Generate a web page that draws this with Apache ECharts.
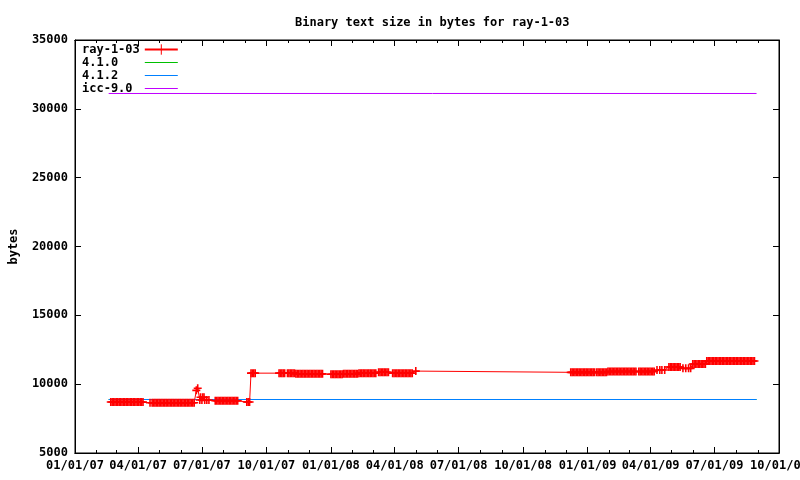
<!DOCTYPE html>
<html><head><meta charset="utf-8">
<script src="https://cdn.jsdelivr.net/npm/echarts@6/dist/echarts.min.js"></script>
<style>html,body{margin:0;padding:0;background:#fff}#c{width:800px;height:480px}</style>
</head><body><div id="c"></div>
<script>
const titleText = 'Binary text size in bytes for ray-1-03';
const seriesNames = ['ray-1-03', '4.1.0', '4.1.2', 'icc-9.0'];
const xTickDates = ['2007-01-01','2007-04-01','2007-07-01','2007-10-01','2008-01-01','2008-04-01','2008-07-01','2008-10-01','2009-01-01','2009-04-01','2009-07-01','2009-10-01'];
const xTickLabels = ['01/01/07','04/01/07','07/01/07','10/01/07','01/01/08','04/01/08','07/01/08','10/01/08','01/01/09','04/01/09','07/01/09','10/01/09'];
const yTicks = [5000, 10000, 15000, 20000, 25000, 30000, 35000];

const ray103 = [
['2007-02-21',8700],['2007-02-23',8700],['2007-02-25',8700],['2007-02-27',8700],['2007-03-01',8700],['2007-03-03',8700],['2007-03-05',8700],['2007-03-07',8700],['2007-03-09',8700],['2007-03-11',8700],['2007-03-13',8700],['2007-03-15',8700],['2007-03-17',8700],['2007-03-19',8700],['2007-03-21',8700],['2007-03-23',8700],['2007-03-25',8700],['2007-03-27',8700],['2007-03-29',8700],['2007-03-31',8700],['2007-04-02',8700],['2007-04-04',8700],['2007-04-06',8700],['2007-04-08',8700],
['2007-04-18',8650],
['2007-04-21',8650],['2007-04-23',8650],['2007-04-25',8650],['2007-04-27',8650],['2007-04-29',8650],['2007-05-01',8650],['2007-05-03',8650],['2007-05-05',8650],['2007-05-07',8650],['2007-05-09',8650],['2007-05-11',8650],['2007-05-13',8650],['2007-05-15',8650],['2007-05-17',8650],['2007-05-19',8650],['2007-05-21',8650],['2007-05-23',8650],['2007-05-25',8650],
['2007-05-27',8650],['2007-05-29',8650],['2007-05-31',8650],['2007-06-02',8650],['2007-06-04',8650],['2007-06-06',8650],['2007-06-08',8650],['2007-06-10',8650],['2007-06-12',8650],['2007-06-14',8650],['2007-06-16',8650],['2007-06-18',8650],['2007-06-20',8650],
['2007-06-23',9550],['2007-06-25',9700],['2007-06-28',8850],['2007-06-29',9050],['2007-07-01',8850],['2007-07-02',9050],['2007-07-04',9050],['2007-07-05',8850],['2007-07-08',8850],['2007-07-11',8850],
['2007-07-20',8800],['2007-07-22',8800],['2007-07-24',8800],['2007-07-26',8800],['2007-07-28',8800],['2007-07-30',8800],['2007-08-01',8800],['2007-08-03',8800],['2007-08-05',8800],['2007-08-07',8800],['2007-08-09',8800],['2007-08-11',8800],['2007-08-13',8800],['2007-08-15',8800],['2007-08-17',8800],['2007-08-19',8800],['2007-08-21',8800],
['2007-09-03',8700],['2007-09-05',8700],['2007-09-07',8700],
['2007-09-09',10800],['2007-09-11',10800],['2007-09-13',10800],['2007-09-15',10800],
['2007-10-19',10800],['2007-10-21',10800],['2007-10-23',10800],['2007-10-25',10800],['2007-10-27',10800],
['2007-10-31',10800],['2007-11-02',10800],['2007-11-04',10800],['2007-11-06',10800],['2007-11-08',10800],['2007-11-10',10800],
['2007-11-12',10750],['2007-11-14',10750],['2007-11-16',10750],['2007-11-18',10750],['2007-11-20',10750],['2007-11-22',10750],['2007-11-24',10750],['2007-11-26',10750],['2007-11-28',10750],['2007-11-30',10750],['2007-12-02',10750],['2007-12-04',10750],['2007-12-06',10750],['2007-12-08',10750],['2007-12-10',10750],['2007-12-12',10750],['2007-12-14',10750],['2007-12-16',10750],['2007-12-18',10750],['2007-12-20',10750],
['2008-01-01',10720],['2008-01-03',10720],['2008-01-05',10720],['2008-01-07',10720],['2008-01-09',10720],['2008-01-11',10720],['2008-01-13',10720],['2008-01-15',10720],['2008-01-17',10720],
['2008-01-19',10750],['2008-01-21',10750],['2008-01-23',10750],['2008-01-25',10750],['2008-01-27',10750],['2008-01-29',10750],['2008-01-31',10750],['2008-02-02',10750],['2008-02-04',10750],['2008-02-06',10750],['2008-02-08',10750],
['2008-02-10',10800],['2008-02-12',10800],['2008-02-14',10800],['2008-02-16',10800],['2008-02-18',10800],['2008-02-20',10800],['2008-02-22',10800],['2008-02-24',10800],['2008-02-26',10800],['2008-02-28',10800],['2008-03-01',10800],['2008-03-03',10800],['2008-03-05',10800],
['2008-03-09',10870],['2008-03-11',10870],['2008-03-13',10870],['2008-03-15',10870],['2008-03-17',10870],['2008-03-19',10870],['2008-03-21',10870],['2008-03-23',10870],
['2008-03-29',10790],['2008-03-31',10790],['2008-04-02',10790],['2008-04-04',10790],['2008-04-06',10790],['2008-04-08',10790],['2008-04-10',10790],['2008-04-12',10790],['2008-04-14',10790],['2008-04-16',10790],['2008-04-18',10790],['2008-04-20',10790],['2008-04-22',10790],['2008-04-24',10790],['2008-04-26',10790],
['2008-05-01',10950],
['2008-12-08',10860],['2008-12-10',10860],['2008-12-12',10860],['2008-12-14',10860],['2008-12-16',10860],['2008-12-18',10860],['2008-12-20',10860],['2008-12-22',10860],['2008-12-24',10860],['2008-12-26',10860],['2008-12-28',10860],['2008-12-30',10860],['2009-01-01',10860],['2009-01-03',10860],['2009-01-05',10860],['2009-01-07',10860],['2009-01-09',10860],['2009-01-11',10860],
['2009-01-14',10860],['2009-01-16',10860],['2009-01-18',10860],['2009-01-20',10860],['2009-01-22',10860],['2009-01-24',10860],['2009-01-26',10860],['2009-01-28',10860],
['2009-01-30',10920],['2009-02-01',10920],['2009-02-03',10920],['2009-02-05',10920],['2009-02-07',10920],['2009-02-09',10920],['2009-02-11',10920],['2009-02-13',10920],['2009-02-15',10920],['2009-02-17',10920],['2009-02-19',10920],['2009-02-21',10920],['2009-02-23',10920],['2009-02-25',10920],['2009-02-27',10920],['2009-03-01',10920],['2009-03-03',10920],['2009-03-05',10920],['2009-03-07',10920],['2009-03-09',10920],['2009-03-11',10920],
['2009-03-15',10920],['2009-03-17',10920],['2009-03-19',10920],['2009-03-21',10920],['2009-03-23',10920],['2009-03-25',10920],['2009-03-27',10920],['2009-03-29',10920],['2009-03-31',10920],['2009-04-02',10920],['2009-04-04',10920],['2009-04-06',10920],
['2009-04-10',11030],['2009-04-14',11030],['2009-04-17',11030],['2009-04-21',11030],
['2009-04-27',11250],['2009-04-29',11250],['2009-05-01',11250],['2009-05-03',11250],['2009-05-05',11250],['2009-05-07',11250],['2009-05-09',11250],['2009-05-11',11250],['2009-05-13',11250],
['2009-05-17',11150],['2009-05-21',11150],['2009-05-25',11150],['2009-05-28',11150],
['2009-05-31',11460],['2009-06-02',11460],['2009-06-04',11460],['2009-06-06',11460],['2009-06-08',11460],['2009-06-10',11460],['2009-06-12',11460],['2009-06-14',11460],['2009-06-16',11460],['2009-06-18',11460],
['2009-06-20',11680],['2009-06-22',11680],['2009-06-24',11680],['2009-06-26',11680],['2009-06-28',11680],['2009-06-30',11680],['2009-07-02',11680],['2009-07-04',11680],['2009-07-06',11680],['2009-07-08',11680],['2009-07-10',11680],['2009-07-12',11680],['2009-07-14',11680],['2009-07-16',11680],['2009-07-18',11680],['2009-07-20',11680],['2009-07-22',11680],['2009-07-24',11680],['2009-07-26',11680],['2009-07-28',11680],['2009-07-30',11680],['2009-08-01',11680],['2009-08-03',11680],['2009-08-05',11680],['2009-08-07',11680],['2009-08-09',11680],['2009-08-11',11680],['2009-08-13',11680],['2009-08-15',11680],['2009-08-17',11680],['2009-08-19',11680],['2009-08-21',11680],
['2009-08-23',11680],['2009-08-25',11680],['2009-08-27',11680]
];
const gcc410 = [['2007-02-18',8886],['2009-08-30',8886]];
const gcc412 = [['2007-02-18',8886],['2009-08-30',8886]];
const icc90 = [['2007-02-18',31114],['2009-08-30',31114]];

function day(s){ const p = s.split('-').map(Number); return Date.UTC(p[0], p[1]-1, p[2]); }
const toXY = arr => arr.map(d => [day(d[0]), d[1]]);
const majorT = xTickDates.map(day);
const labelMap = {}; majorT.forEach((t,i)=>{ labelMap[t] = xTickLabels[i]; });
const minorT = [];
for (let y = 2007; y <= 2009; y++) for (let m = 0; m < 12; m++) { const t = Date.UTC(y, m, 1); if (t <= majorT[majorT.length-1]) minorT.push(t); }

const FONT = 'DejaVu Sans Mono';
const txt = { color: '#000', fontFamily: FONT, fontSize: 12, fontWeight: 'bold' };
const xMin = majorT[0], xMax = majorT[majorT.length-1];
function xAx(pos, ticks, len, labels){
  return { type: 'value', position: pos, min: xMin, max: xMax, gridIndex: 0, scale: true,
    axisLine: { show: true, onZero: false, lineStyle: { color: '#000', width: 1 } },
    axisTick: { show: true, inside: true, length: len, customValues: ticks, lineStyle: { color: '#000' } },
    axisLabel: labels ? Object.assign({ show: true, customValues: majorT, margin: 7, hideOverlap: false, formatter: v => labelMap[v] || '' }, txt) : { show: false },
    splitLine: { show: false }, minorTick: { show: false } };
}
const plusPath = 'path://M0,5L10,5M5,0L5,10';
const barIcon = 'path://M0,0L40,0L40,1L0,1Z';
const chart = echarts.init(document.getElementById('c'), null, { renderer: 'canvas' });
chart.setOption({
  animation: false,
  backgroundColor: '#fff',
  title: { text: titleText, left: 290, top: 12, textStyle: Object.assign({}, txt) },
  grid: { left: 75, right: 21, top: 40, bottom: 27, show: true, borderColor: '#000', borderWidth: 1, containLabel: false, outerBoundsMode: 'none' },
  legend: { data: [ { name: seriesNames[0], itemStyle: { borderWidth: 1 } }, { name: seriesNames[1], icon: barIcon }, { name: seriesNames[2], icon: barIcon }, { name: seriesNames[3], icon: barIcon } ],
    orient: 'vertical', left: 77, top: 38, align: 'right', itemWidth: 33, itemHeight: 13, itemGap: 0,
    formatter: name => name.padEnd(8, ' '),
    textStyle: Object.assign({ lineHeight: 13 }, txt) },
  xAxis: [ xAx('bottom', majorT, 6, true), xAx('bottom', minorT, 3, false), xAx('top', majorT, 6, false), xAx('top', minorT, 3, false) ],
  yAxis: [
    { type: 'value', position: 'left', min: 5000, max: 35000, interval: 5000,
      name: 'bytes', nameLocation: 'middle', nameRotate: 90, nameGap: 55, nameTextStyle: Object.assign({}, txt),
      axisLine: { show: true, lineStyle: { color: '#000' } },
      axisTick: { show: true, inside: true, length: 6, lineStyle: { color: '#000' } },
      axisLabel: Object.assign({ margin: 7, formatter: v => yTicks.includes(v) ? String(v) : '' }, txt),
      splitLine: { show: false } },
    { type: 'value', position: 'right', min: 5000, max: 35000, interval: 5000,
      axisLine: { show: true, lineStyle: { color: '#000' } },
      axisTick: { show: true, inside: true, length: 6, lineStyle: { color: '#000' } },
      axisLabel: { show: false }, splitLine: { show: false } }
  ],
  series: [
    { name: seriesNames[0], type: 'line', data: toXY(ray103), symbol: plusPath, symbolSize: 8, showSymbol: true, showAllSymbol: true,
      lineStyle: { color: '#ff0000', width: 1 }, itemStyle: { color: '#ff0000', borderColor: '#ff0000', borderWidth: 1.6 } },
    { name: seriesNames[1], type: 'line', data: toXY(gcc410), symbol: 'none', lineStyle: { color: '#00c000', width: 1 }, itemStyle: { color: '#00c000' } },
    { name: seriesNames[2], type: 'line', data: toXY(gcc412), symbol: 'none', lineStyle: { color: '#0080ff', width: 1 }, itemStyle: { color: '#0080ff' } },
    { name: seriesNames[3], type: 'line', data: toXY(icc90), symbol: 'none', lineStyle: { color: '#c000ff', width: 1 }, itemStyle: { color: '#c000ff' } }
  ]
});
</script></body></html>
